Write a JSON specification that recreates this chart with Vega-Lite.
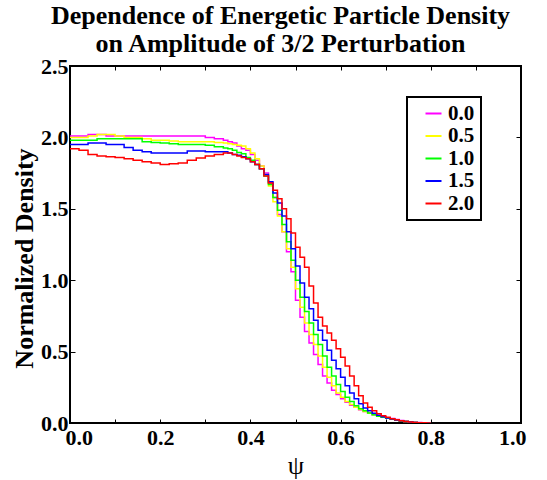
{
  "$schema": "https://vega.github.io/schema/vega-lite/v6.json",
  "autosize": {"type": "none"},
  "padding": {"left": 70, "top": 66, "right": 26, "bottom": 57},
  "width": 451,
  "height": 357,
  "background": "white",
  "title": {
    "text": ["Dependence of Energetic Particle Density", "on Amplitude of 3/2 Perturbation"],
    "font": "Liberation Serif",
    "fontSize": 26,
    "fontWeight": "bold",
    "color": "black",
    "anchor": "middle",
    "dx": -15,
    "offset": -2,
    "lineHeight": 28
  },
  "config": {
    "font": "Liberation Serif",
    "view": {"stroke": "black", "strokeWidth": 2},
    "axis": {
      "labelFont": "Liberation Serif",
      "labelFontSize": 22,
      "labelFontWeight": "bold",
      "labelColor": "black",
      "tickColor": "black",
      "domain": false,
      "grid": false,
      "titleFont": "Liberation Serif",
      "titleColor": "black"
    },
    "legend": {
      "orient": "none",
      "legendX": 337,
      "legendY": 31,
      "strokeColor": "black",
      "strokeWidth": 2,
      "fillColor": "white",
      "padding": 6,
      "labelFont": "Liberation Serif",
      "labelFontSize": 21,
      "labelFontWeight": "bold",
      "labelColor": "black",
      "labelOffset": 4,
      "symbolOffset": 10,
      "symbolType": "stroke",
      "symbolSize": 256,
      "symbolStrokeWidth": 2,
      "rowPadding": 0.5,
      "title": null
    }
  },
  "data": {"values": [
    {"psi":0.00,"d":2.01,"a":"0.0"},{"psi":0.02,"d":2.01,"a":"0.0"},{"psi":0.04,"d":2.02,"a":"0.0"},{"psi":0.06,"d":2.02,"a":"0.0"},{"psi":0.08,"d":2.01,"a":"0.0"},{"psi":0.10,"d":2.01,"a":"0.0"},{"psi":0.12,"d":2.01,"a":"0.0"},{"psi":0.14,"d":2.01,"a":"0.0"},{"psi":0.16,"d":2.01,"a":"0.0"},{"psi":0.18,"d":2.01,"a":"0.0"},{"psi":0.20,"d":2.01,"a":"0.0"},{"psi":0.22,"d":2.01,"a":"0.0"},{"psi":0.24,"d":2.01,"a":"0.0"},{"psi":0.26,"d":2.01,"a":"0.0"},{"psi":0.28,"d":2.01,"a":"0.0"},{"psi":0.30,"d":2.00,"a":"0.0"},{"psi":0.32,"d":1.99,"a":"0.0"},{"psi":0.34,"d":1.98,"a":"0.0"},
    {"psi":0.35,"d":1.97,"a":"0.0"},{"psi":0.36,"d":1.96,"a":"0.0"},{"psi":0.37,"d":1.94,"a":"0.0"},{"psi":0.38,"d":1.92,"a":"0.0"},{"psi":0.39,"d":1.91,"a":"0.0"},{"psi":0.40,"d":1.88,"a":"0.0"},{"psi":0.41,"d":1.84,"a":"0.0"},{"psi":0.42,"d":1.80,"a":"0.0"},{"psi":0.43,"d":1.75,"a":"0.0"},{"psi":0.44,"d":1.68,"a":"0.0"},{"psi":0.45,"d":1.58,"a":"0.0"},{"psi":0.46,"d":1.46,"a":"0.0"},{"psi":0.47,"d":1.34,"a":"0.0"},{"psi":0.48,"d":1.20,"a":"0.0"},{"psi":0.49,"d":1.06,"a":"0.0"},{"psi":0.50,"d":0.86,"a":"0.0"},{"psi":0.51,"d":0.74,"a":"0.0"},{"psi":0.52,"d":0.64,"a":"0.0"},{"psi":0.53,"d":0.56,"a":"0.0"},{"psi":0.54,"d":0.48,"a":"0.0"},{"psi":0.55,"d":0.41,"a":"0.0"},{"psi":0.56,"d":0.33,"a":"0.0"},{"psi":0.57,"d":0.28,"a":"0.0"},{"psi":0.58,"d":0.23,"a":"0.0"},{"psi":0.59,"d":0.20,"a":"0.0"},{"psi":0.60,"d":0.17,"a":"0.0"},{"psi":0.61,"d":0.145,"a":"0.0"},{"psi":0.62,"d":0.125,"a":"0.0"},{"psi":0.63,"d":0.11,"a":"0.0"},{"psi":0.64,"d":0.093,"a":"0.0"},{"psi":0.65,"d":0.08,"a":"0.0"},{"psi":0.66,"d":0.07,"a":"0.0"},{"psi":0.67,"d":0.058,"a":"0.0"},{"psi":0.68,"d":0.05,"a":"0.0"},{"psi":0.69,"d":0.043,"a":"0.0"},{"psi":0.70,"d":0.037,"a":"0.0"},{"psi":0.71,"d":0.032,"a":"0.0"},{"psi":0.72,"d":0.024,"a":"0.0"},{"psi":0.73,"d":0.017,"a":"0.0"},{"psi":0.74,"d":0.012,"a":"0.0"},{"psi":0.75,"d":0.008,"a":"0.0"},{"psi":0.76,"d":0.005,"a":"0.0"},{"psi":0.77,"d":0.003,"a":"0.0"},{"psi":0.78,"d":0.001,"a":"0.0"},{"psi":0.79,"d":0,"a":"0.0"},{"psi":0.80,"d":0,"a":"0.0"},

    {"psi":0.00,"d":2.00,"a":"0.5"},{"psi":0.02,"d":2.00,"a":"0.5"},{"psi":0.04,"d":2.01,"a":"0.5"},{"psi":0.06,"d":2.02,"a":"0.5"},{"psi":0.08,"d":2.02,"a":"0.5"},{"psi":0.10,"d":2.01,"a":"0.5"},{"psi":0.12,"d":2.00,"a":"0.5"},{"psi":0.14,"d":2.00,"a":"0.5"},{"psi":0.16,"d":1.99,"a":"0.5"},{"psi":0.18,"d":1.98,"a":"0.5"},{"psi":0.20,"d":1.98,"a":"0.5"},{"psi":0.22,"d":1.975,"a":"0.5"},{"psi":0.24,"d":1.97,"a":"0.5"},{"psi":0.26,"d":1.97,"a":"0.5"},{"psi":0.28,"d":1.97,"a":"0.5"},{"psi":0.30,"d":1.97,"a":"0.5"},{"psi":0.32,"d":1.965,"a":"0.5"},{"psi":0.34,"d":1.96,"a":"0.5"},
    {"psi":0.35,"d":1.955,"a":"0.5"},{"psi":0.36,"d":1.95,"a":"0.5"},{"psi":0.37,"d":1.945,"a":"0.5"},{"psi":0.38,"d":1.94,"a":"0.5"},{"psi":0.39,"d":1.92,"a":"0.5"},{"psi":0.40,"d":1.89,"a":"0.5"},{"psi":0.41,"d":1.85,"a":"0.5"},{"psi":0.42,"d":1.80,"a":"0.5"},{"psi":0.43,"d":1.74,"a":"0.5"},{"psi":0.44,"d":1.66,"a":"0.5"},{"psi":0.45,"d":1.55,"a":"0.5"},{"psi":0.46,"d":1.45,"a":"0.5"},{"psi":0.47,"d":1.34,"a":"0.5"},{"psi":0.48,"d":1.22,"a":"0.5"},{"psi":0.49,"d":1.09,"a":"0.5"},{"psi":0.50,"d":0.94,"a":"0.5"},{"psi":0.51,"d":0.81,"a":"0.5"},{"psi":0.52,"d":0.70,"a":"0.5"},{"psi":0.53,"d":0.62,"a":"0.5"},{"psi":0.54,"d":0.55,"a":"0.5"},{"psi":0.55,"d":0.47,"a":"0.5"},{"psi":0.56,"d":0.39,"a":"0.5"},{"psi":0.57,"d":0.32,"a":"0.5"},{"psi":0.58,"d":0.26,"a":"0.5"},{"psi":0.59,"d":0.21,"a":"0.5"},{"psi":0.60,"d":0.18,"a":"0.5"},{"psi":0.61,"d":0.15,"a":"0.5"},{"psi":0.62,"d":0.13,"a":"0.5"},{"psi":0.63,"d":0.11,"a":"0.5"},{"psi":0.64,"d":0.095,"a":"0.5"},{"psi":0.65,"d":0.08,"a":"0.5"},{"psi":0.66,"d":0.068,"a":"0.5"},{"psi":0.67,"d":0.057,"a":"0.5"},{"psi":0.68,"d":0.047,"a":"0.5"},{"psi":0.69,"d":0.04,"a":"0.5"},{"psi":0.70,"d":0.034,"a":"0.5"},{"psi":0.71,"d":0.028,"a":"0.5"},{"psi":0.72,"d":0.02,"a":"0.5"},{"psi":0.73,"d":0.015,"a":"0.5"},{"psi":0.74,"d":0.01,"a":"0.5"},{"psi":0.75,"d":0.007,"a":"0.5"},{"psi":0.76,"d":0.004,"a":"0.5"},{"psi":0.77,"d":0.002,"a":"0.5"},{"psi":0.78,"d":0.001,"a":"0.5"},{"psi":0.79,"d":0,"a":"0.5"},{"psi":0.80,"d":0,"a":"0.5"},

    {"psi":0.00,"d":1.98,"a":"1.0"},{"psi":0.02,"d":1.98,"a":"1.0"},{"psi":0.04,"d":1.98,"a":"1.0"},{"psi":0.06,"d":1.99,"a":"1.0"},{"psi":0.08,"d":1.99,"a":"1.0"},{"psi":0.10,"d":1.99,"a":"1.0"},{"psi":0.12,"d":1.99,"a":"1.0"},{"psi":0.14,"d":1.99,"a":"1.0"},{"psi":0.16,"d":1.97,"a":"1.0"},{"psi":0.18,"d":1.965,"a":"1.0"},{"psi":0.20,"d":1.96,"a":"1.0"},{"psi":0.22,"d":1.955,"a":"1.0"},{"psi":0.24,"d":1.95,"a":"1.0"},{"psi":0.26,"d":1.95,"a":"1.0"},{"psi":0.28,"d":1.95,"a":"1.0"},{"psi":0.30,"d":1.945,"a":"1.0"},{"psi":0.32,"d":1.935,"a":"1.0"},{"psi":0.34,"d":1.925,"a":"1.0"},
    {"psi":0.35,"d":1.92,"a":"1.0"},{"psi":0.36,"d":1.91,"a":"1.0"},{"psi":0.37,"d":1.895,"a":"1.0"},{"psi":0.38,"d":1.885,"a":"1.0"},{"psi":0.39,"d":1.86,"a":"1.0"},{"psi":0.40,"d":1.84,"a":"1.0"},{"psi":0.41,"d":1.81,"a":"1.0"},{"psi":0.42,"d":1.78,"a":"1.0"},{"psi":0.43,"d":1.73,"a":"1.0"},{"psi":0.44,"d":1.67,"a":"1.0"},{"psi":0.45,"d":1.58,"a":"1.0"},{"psi":0.46,"d":1.49,"a":"1.0"},{"psi":0.47,"d":1.39,"a":"1.0"},{"psi":0.48,"d":1.27,"a":"1.0"},{"psi":0.49,"d":1.14,"a":"1.0"},{"psi":0.50,"d":1.00,"a":"1.0"},{"psi":0.51,"d":0.88,"a":"1.0"},{"psi":0.52,"d":0.78,"a":"1.0"},{"psi":0.53,"d":0.70,"a":"1.0"},{"psi":0.54,"d":0.62,"a":"1.0"},{"psi":0.55,"d":0.55,"a":"1.0"},{"psi":0.56,"d":0.47,"a":"1.0"},{"psi":0.57,"d":0.39,"a":"1.0"},{"psi":0.58,"d":0.33,"a":"1.0"},{"psi":0.59,"d":0.27,"a":"1.0"},{"psi":0.60,"d":0.22,"a":"1.0"},{"psi":0.61,"d":0.18,"a":"1.0"},{"psi":0.62,"d":0.15,"a":"1.0"},{"psi":0.63,"d":0.12,"a":"1.0"},{"psi":0.64,"d":0.10,"a":"1.0"},{"psi":0.65,"d":0.085,"a":"1.0"},{"psi":0.66,"d":0.07,"a":"1.0"},{"psi":0.67,"d":0.058,"a":"1.0"},{"psi":0.68,"d":0.048,"a":"1.0"},{"psi":0.69,"d":0.04,"a":"1.0"},{"psi":0.70,"d":0.033,"a":"1.0"},{"psi":0.71,"d":0.026,"a":"1.0"},{"psi":0.72,"d":0.02,"a":"1.0"},{"psi":0.73,"d":0.014,"a":"1.0"},{"psi":0.74,"d":0.01,"a":"1.0"},{"psi":0.75,"d":0.006,"a":"1.0"},{"psi":0.76,"d":0.004,"a":"1.0"},{"psi":0.77,"d":0.002,"a":"1.0"},{"psi":0.78,"d":0.001,"a":"1.0"},{"psi":0.79,"d":0,"a":"1.0"},{"psi":0.80,"d":0,"a":"1.0"},

    {"psi":0.00,"d":1.95,"a":"1.5"},{"psi":0.02,"d":1.95,"a":"1.5"},{"psi":0.04,"d":1.96,"a":"1.5"},{"psi":0.06,"d":1.96,"a":"1.5"},{"psi":0.08,"d":1.95,"a":"1.5"},{"psi":0.10,"d":1.95,"a":"1.5"},{"psi":0.12,"d":1.93,"a":"1.5"},{"psi":0.14,"d":1.91,"a":"1.5"},{"psi":0.16,"d":1.90,"a":"1.5"},{"psi":0.18,"d":1.89,"a":"1.5"},{"psi":0.20,"d":1.89,"a":"1.5"},{"psi":0.22,"d":1.89,"a":"1.5"},{"psi":0.24,"d":1.89,"a":"1.5"},{"psi":0.26,"d":1.905,"a":"1.5"},{"psi":0.28,"d":1.905,"a":"1.5"},{"psi":0.30,"d":1.90,"a":"1.5"},{"psi":0.32,"d":1.90,"a":"1.5"},{"psi":0.34,"d":1.90,"a":"1.5"},
    {"psi":0.35,"d":1.89,"a":"1.5"},{"psi":0.36,"d":1.88,"a":"1.5"},{"psi":0.37,"d":1.875,"a":"1.5"},{"psi":0.38,"d":1.865,"a":"1.5"},{"psi":0.39,"d":1.85,"a":"1.5"},{"psi":0.40,"d":1.83,"a":"1.5"},{"psi":0.41,"d":1.81,"a":"1.5"},{"psi":0.42,"d":1.78,"a":"1.5"},{"psi":0.43,"d":1.74,"a":"1.5"},{"psi":0.44,"d":1.69,"a":"1.5"},{"psi":0.45,"d":1.61,"a":"1.5"},{"psi":0.46,"d":1.54,"a":"1.5"},{"psi":0.47,"d":1.45,"a":"1.5"},{"psi":0.48,"d":1.34,"a":"1.5"},{"psi":0.49,"d":1.22,"a":"1.5"},{"psi":0.50,"d":1.10,"a":"1.5"},{"psi":0.51,"d":0.98,"a":"1.5"},{"psi":0.52,"d":0.88,"a":"1.5"},{"psi":0.53,"d":0.80,"a":"1.5"},{"psi":0.54,"d":0.72,"a":"1.5"},{"psi":0.55,"d":0.65,"a":"1.5"},{"psi":0.56,"d":0.58,"a":"1.5"},{"psi":0.57,"d":0.51,"a":"1.5"},{"psi":0.58,"d":0.44,"a":"1.5"},{"psi":0.59,"d":0.38,"a":"1.5"},{"psi":0.60,"d":0.32,"a":"1.5"},{"psi":0.61,"d":0.26,"a":"1.5"},{"psi":0.62,"d":0.21,"a":"1.5"},{"psi":0.63,"d":0.17,"a":"1.5"},{"psi":0.64,"d":0.135,"a":"1.5"},{"psi":0.65,"d":0.105,"a":"1.5"},{"psi":0.66,"d":0.085,"a":"1.5"},{"psi":0.67,"d":0.068,"a":"1.5"},{"psi":0.68,"d":0.054,"a":"1.5"},{"psi":0.69,"d":0.044,"a":"1.5"},{"psi":0.70,"d":0.035,"a":"1.5"},{"psi":0.71,"d":0.028,"a":"1.5"},{"psi":0.72,"d":0.021,"a":"1.5"},{"psi":0.73,"d":0.015,"a":"1.5"},{"psi":0.74,"d":0.01,"a":"1.5"},{"psi":0.75,"d":0.007,"a":"1.5"},{"psi":0.76,"d":0.004,"a":"1.5"},{"psi":0.77,"d":0.002,"a":"1.5"},{"psi":0.78,"d":0.001,"a":"1.5"},{"psi":0.79,"d":0,"a":"1.5"},{"psi":0.80,"d":0,"a":"1.5"},

    {"psi":0.00,"d":1.92,"a":"2.0"},{"psi":0.02,"d":1.91,"a":"2.0"},{"psi":0.04,"d":1.88,"a":"2.0"},{"psi":0.06,"d":1.87,"a":"2.0"},{"psi":0.08,"d":1.865,"a":"2.0"},{"psi":0.10,"d":1.86,"a":"2.0"},{"psi":0.12,"d":1.85,"a":"2.0"},{"psi":0.14,"d":1.84,"a":"2.0"},{"psi":0.16,"d":1.83,"a":"2.0"},{"psi":0.18,"d":1.82,"a":"2.0"},{"psi":0.20,"d":1.81,"a":"2.0"},{"psi":0.22,"d":1.815,"a":"2.0"},{"psi":0.24,"d":1.82,"a":"2.0"},{"psi":0.26,"d":1.84,"a":"2.0"},{"psi":0.28,"d":1.855,"a":"2.0"},{"psi":0.30,"d":1.87,"a":"2.0"},{"psi":0.32,"d":1.88,"a":"2.0"},{"psi":0.34,"d":1.89,"a":"2.0"},
    {"psi":0.35,"d":1.89,"a":"2.0"},{"psi":0.36,"d":1.88,"a":"2.0"},{"psi":0.37,"d":1.87,"a":"2.0"},{"psi":0.38,"d":1.86,"a":"2.0"},{"psi":0.39,"d":1.85,"a":"2.0"},{"psi":0.40,"d":1.83,"a":"2.0"},{"psi":0.41,"d":1.81,"a":"2.0"},{"psi":0.42,"d":1.78,"a":"2.0"},{"psi":0.43,"d":1.73,"a":"2.0"},{"psi":0.44,"d":1.68,"a":"2.0"},{"psi":0.45,"d":1.63,"a":"2.0"},{"psi":0.46,"d":1.57,"a":"2.0"},{"psi":0.47,"d":1.50,"a":"2.0"},{"psi":0.48,"d":1.43,"a":"2.0"},{"psi":0.49,"d":1.33,"a":"2.0"},{"psi":0.50,"d":1.23,"a":"2.0"},{"psi":0.51,"d":1.16,"a":"2.0"},{"psi":0.52,"d":1.09,"a":"2.0"},{"psi":0.53,"d":0.96,"a":"2.0"},{"psi":0.54,"d":0.84,"a":"2.0"},{"psi":0.55,"d":0.74,"a":"2.0"},{"psi":0.56,"d":0.68,"a":"2.0"},{"psi":0.57,"d":0.63,"a":"2.0"},{"psi":0.58,"d":0.58,"a":"2.0"},{"psi":0.59,"d":0.52,"a":"2.0"},{"psi":0.60,"d":0.46,"a":"2.0"},{"psi":0.61,"d":0.40,"a":"2.0"},{"psi":0.62,"d":0.33,"a":"2.0"},{"psi":0.63,"d":0.26,"a":"2.0"},{"psi":0.64,"d":0.19,"a":"2.0"},{"psi":0.65,"d":0.14,"a":"2.0"},{"psi":0.66,"d":0.11,"a":"2.0"},{"psi":0.67,"d":0.085,"a":"2.0"},{"psi":0.68,"d":0.065,"a":"2.0"},{"psi":0.69,"d":0.05,"a":"2.0"},{"psi":0.70,"d":0.04,"a":"2.0"},{"psi":0.71,"d":0.03,"a":"2.0"},{"psi":0.72,"d":0.022,"a":"2.0"},{"psi":0.73,"d":0.016,"a":"2.0"},{"psi":0.74,"d":0.011,"a":"2.0"},{"psi":0.75,"d":0.007,"a":"2.0"},{"psi":0.76,"d":0.004,"a":"2.0"},{"psi":0.77,"d":0.002,"a":"2.0"},{"psi":0.78,"d":0.001,"a":"2.0"},{"psi":0.79,"d":0,"a":"2.0"},{"psi":0.80,"d":0,"a":"2.0"}
  ]},
  "resolve": {"axis": {"x": "independent", "y": "independent"}},
  "layer": [
    {
      "transform": [{"filter": {"field": "a", "oneOf": ["0.0", "0.5", "1.0"]}}],
      "mark": {"type": "line", "interpolate": "step-after", "strokeWidth": 1.5, "clip": true},
      "encoding": {
        "x": {
          "field": "psi", "type": "quantitative",
          "scale": {"domain": [0, 1], "nice": false, "zero": false},
          "axis": {
            "orient": "bottom",
            "values": [0, 0.1, 0.2, 0.3, 0.4, 0.5, 0.6, 0.7, 0.8, 0.9, 1.0],
            "labelExpr": "round(datum.value * 10) % 2 == 0 ? format(datum.value, '.1f') : ''",
            "tickSize": -4,
            "tickWidth": 1,
            "labelPadding": 8,
            "labelFlush": true,
            "labelFlushOffset": 5,
            "title": "ψ",
            "titleFontSize": 26,
            "titleFontWeight": "normal",
            "titlePadding": 4
          }
        },
        "y": {
          "field": "d", "type": "quantitative",
          "scale": {"domain": [0, 2.5], "nice": false},
          "axis": {
            "orient": "left",
            "values": [0, 0.5, 1.0, 1.5, 2.0, 2.5],
            "format": ".1f",
            "tickSize": -5,
            "tickWidth": 1,
            "labelPadding": 7,
            "title": "Normalized Density",
            "titleFontSize": 26,
            "titleFontWeight": "bold",
            "titlePadding": 3,
            "titleY": 192
          }
        },
        "color": {
          "field": "a", "type": "nominal",
          "scale": {"domain": ["0.0", "0.5", "1.0", "1.5", "2.0"], "range": ["#ff00ff", "#ffff00", "#00ff00", "#0000ff", "#ff0000"]},
          "legend": {"title": null}
        }
      }
    },
    {
      "transform": [{"filter": {"field": "a", "oneOf": ["1.5", "2.0"]}}],
      "mark": {"type": "line", "interpolate": "step-after", "strokeWidth": 1.5, "clip": true},
      "encoding": {
        "x": {
          "field": "psi", "type": "quantitative",
          "axis": {
            "orient": "top",
            "values": [0, 0.1, 0.2, 0.3, 0.4, 0.5, 0.6, 0.7, 0.8, 0.9, 1.0],
            "labels": false,
            "tickSize": -4,
            "tickWidth": 1,
            "title": null
          }
        },
        "y": {
          "field": "d", "type": "quantitative",
          "axis": {
            "orient": "right",
            "values": [0, 0.5, 1.0, 1.5, 2.0, 2.5],
            "labels": false,
            "tickSize": -5,
            "tickWidth": 1,
            "title": null
          }
        },
        "color": {"field": "a", "type": "nominal", "legend": {"title": null}}
      }
    }
  ]
}
